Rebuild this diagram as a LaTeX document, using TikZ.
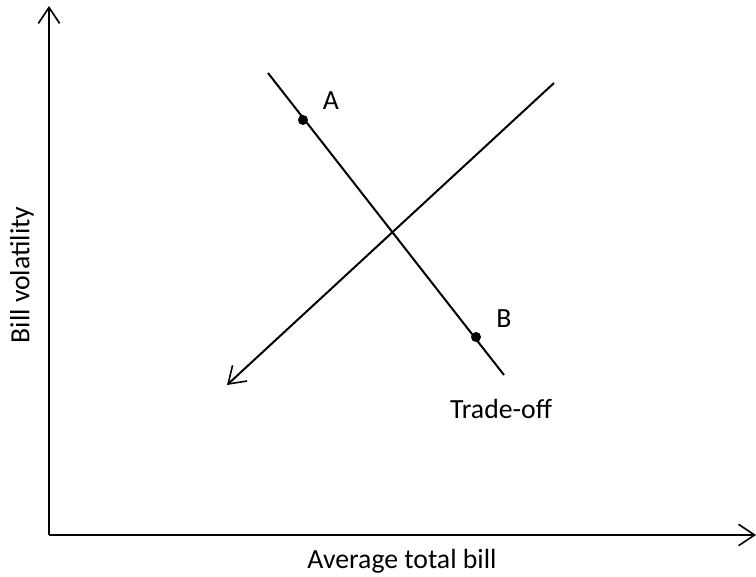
\documentclass[tikz,border=0pt]{standalone}
\usepackage{fontspec}
\setmainfont{Carlito}
\usetikzlibrary{arrows.meta}
\begin{document}
\begin{tikzpicture}[x=0.75pt,y=-0.75pt,
  ln/.style={line width=1.5pt},
  arr/.style={ln,-{Straight Barb[length=12pt,width=16pt,line width=1.2pt]}},
  dot/.style={circle,fill=black,inner sep=0pt,minimum size=7.5pt},
  lbl/.style={font=\fontsize{20.8}{24}\selectfont}]
\useasboundingbox (0,0) rectangle (756,577);
\coordinate (O) at (49,535);
\coordinate (Y) at (49,6);
\coordinate (X) at (756,535);
\draw[arr] (O) -- (Y);
\draw[arr] (O) -- (X);
\coordinate (T1) at (268,73);
\coordinate (T2) at (504,375);
\draw[ln] (T1) -- (T2);
\node[dot] (A) at (303,120) {};
\node[dot] (B) at (476,337) {};
\node[lbl] (la) at (331,101) {A};
\node[lbl] (lb) at (504,319) {B};
\coordinate (S1) at (554,83);
\coordinate (S2) at (227,385);
\draw[arr] (S1) -- (S2);
\node[lbl] (to) at (501,409) {Trade-off};
\node[lbl] (xl) at (402,561) {Average total bill};
\node[lbl,rotate=90] (yl) at (22,275) {Bill volatility};
\end{tikzpicture}
\end{document}
